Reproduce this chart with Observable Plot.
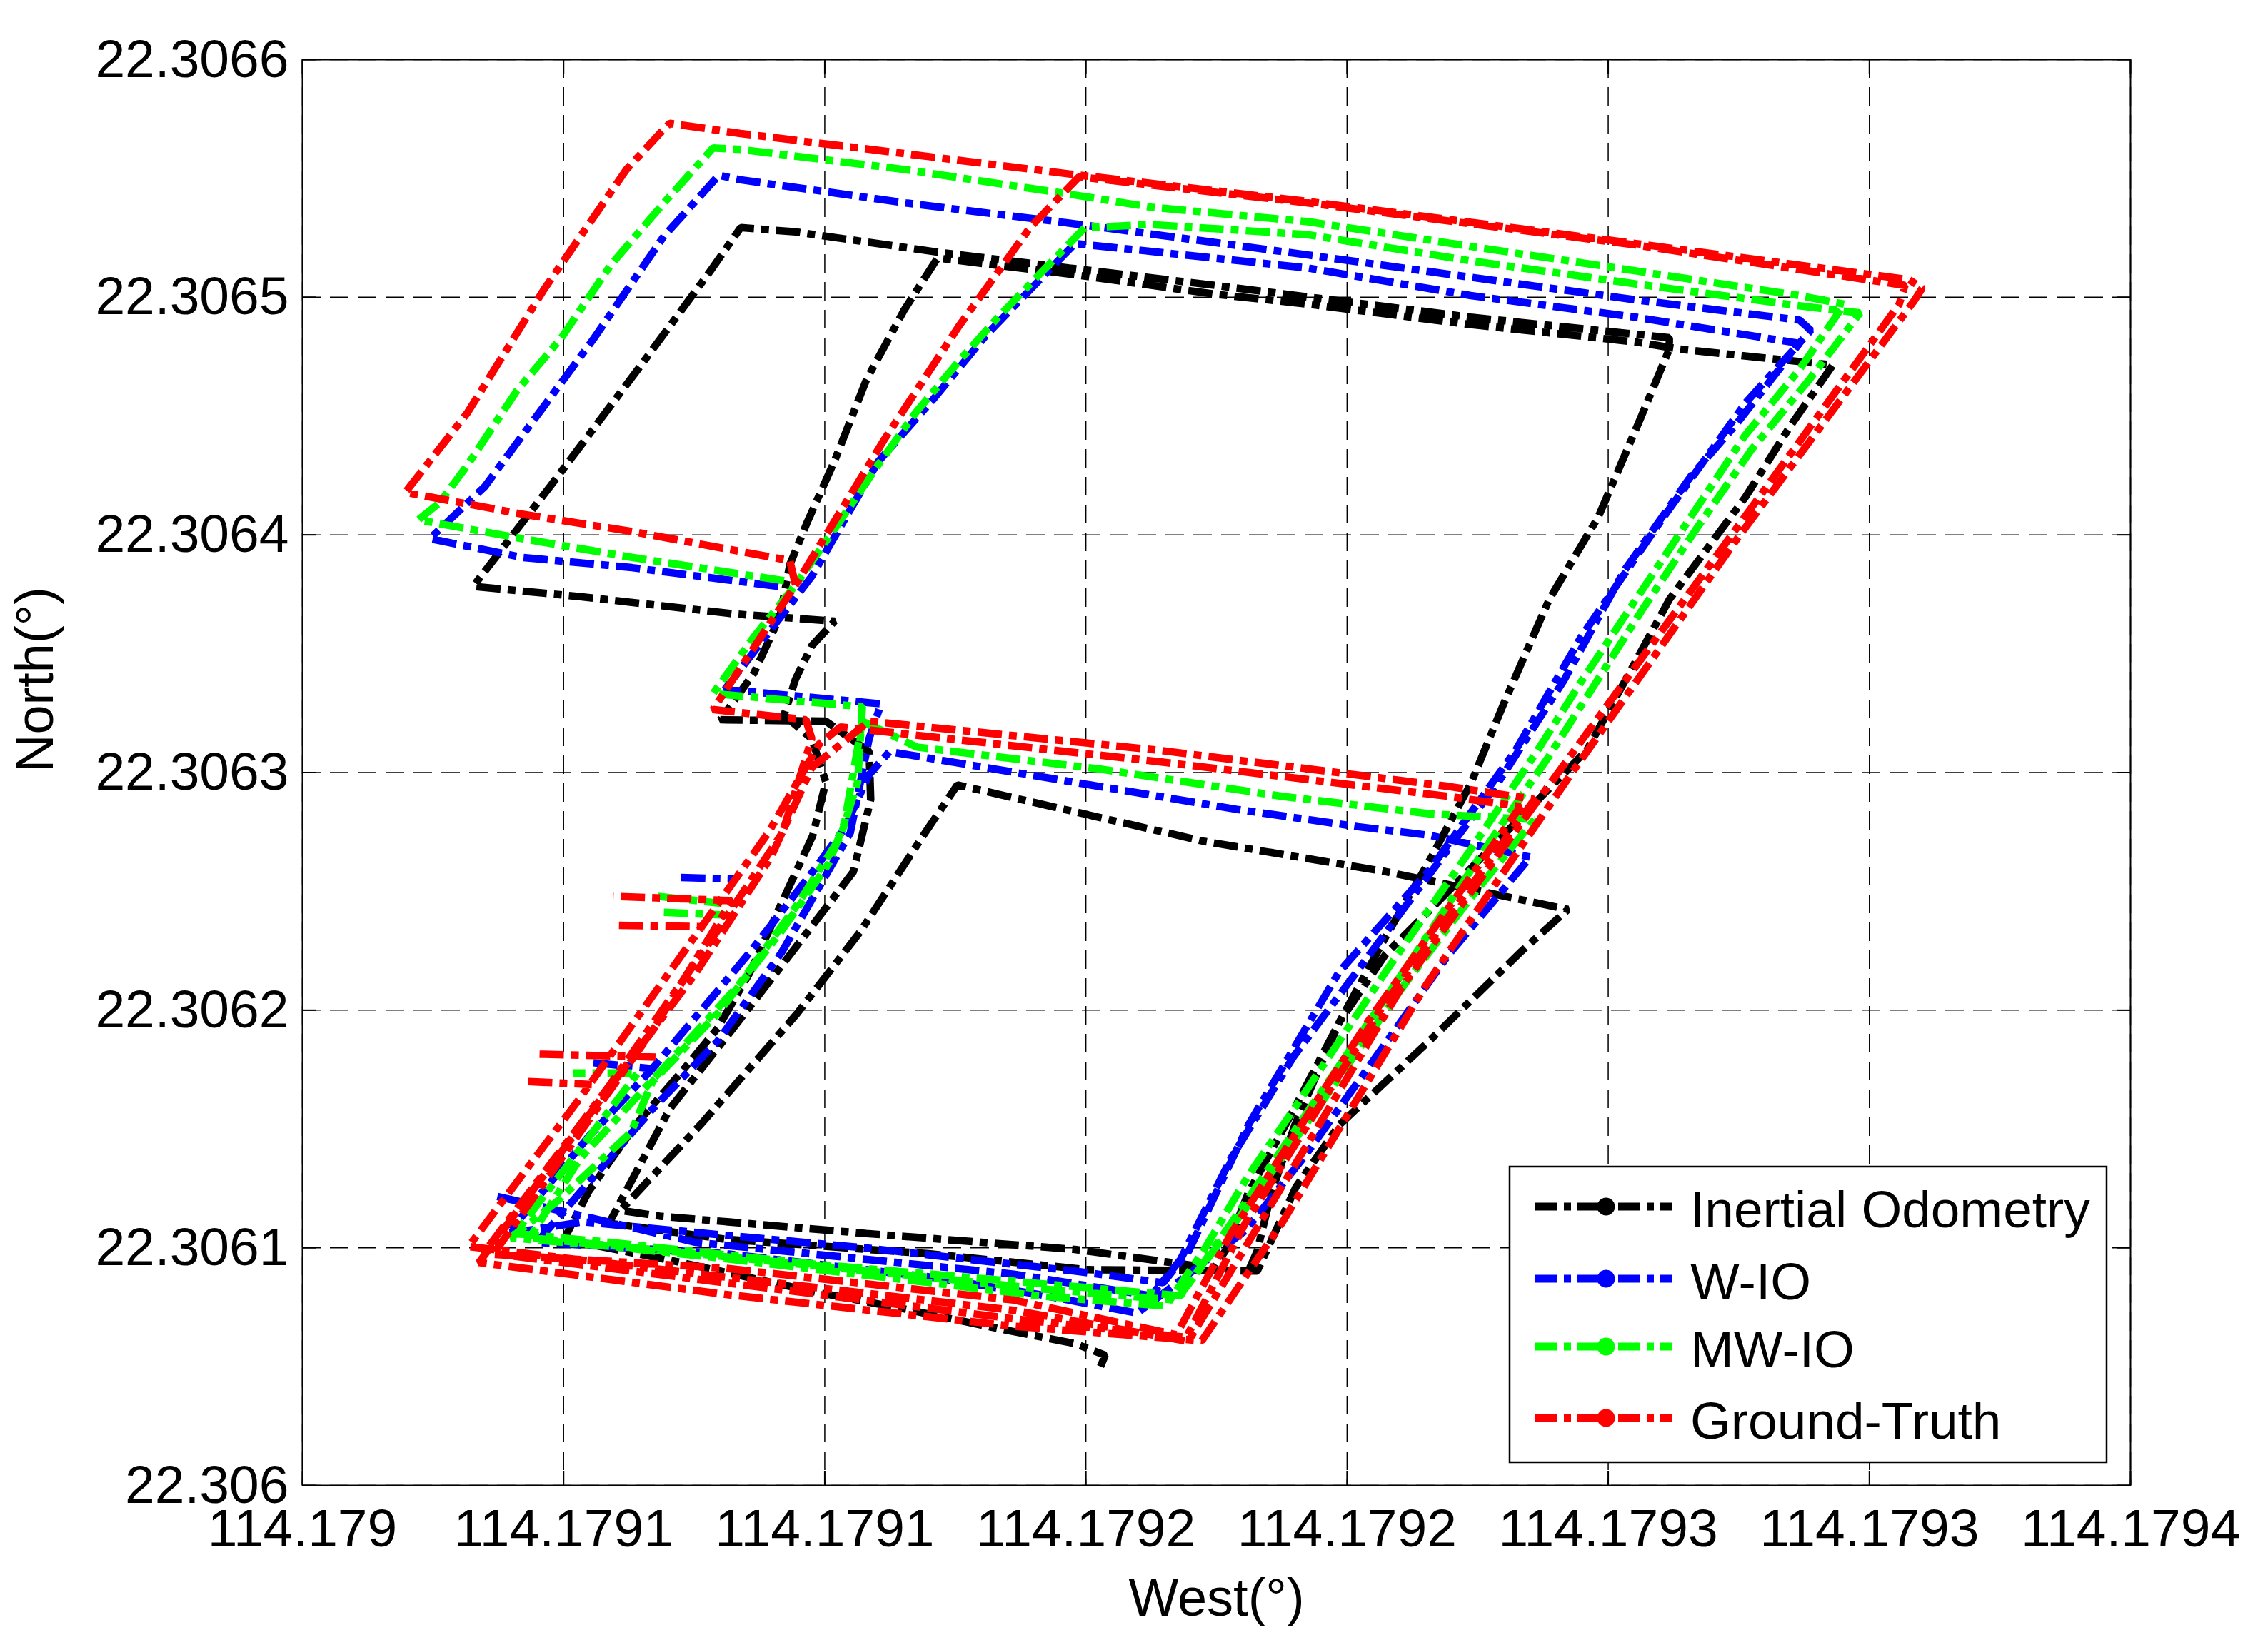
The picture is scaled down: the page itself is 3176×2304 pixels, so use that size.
<!DOCTYPE html>
<html><head><meta charset="utf-8">
<script src="https://cdn.jsdelivr.net/npm/d3@7"></script>
<script src="https://cdn.jsdelivr.net/npm/@observablehq/plot@0.6"></script>
<style>
html,body{margin:0;padding:0;background:#fff;}
#wrap{position:relative;width:3176px;height:2304px;font-family:"Liberation Sans",Arial,sans-serif;}
#legend{position:absolute;left:2112px;top:1632px;width:842px;height:420px;}
</style></head><body><div id="wrap"><div id="legend"></div></div>
<script>
// ---------- axis ticks ----------
const xTicks = [114.179, 114.17905, 114.1791, 114.17915, 114.1792, 114.17925, 114.1793, 114.17935];
const xTickLabels = ["114.179","114.1791","114.1791","114.1792","114.1792","114.1793","114.1793","114.1794"];
const yTicks = [22.306, 22.3061, 22.3062, 22.3063, 22.3064, 22.3065, 22.3066];
const yTickLabels = ["22.306","22.3061","22.3062","22.3063","22.3064","22.3065","22.3066"];
const seriesNames = ["Inertial Odometry","W-IO","MW-IO","Ground-Truth"];
const seriesColors = ["#000000","#0000ff","#00ff00","#ff0000"];

// ---------- Inertial Odometry (black) ----------
const ioLon = [114.1791528,114.1791537,114.1791479,114.1791337,114.1791152,114.1790977,114.1790725,114.1790501,114.1790548,114.1790640,
114.1790731,114.1790795,114.1790856,114.1790917,114.1790977,114.1791002,114.1790975,114.1790922,114.1790944,114.1790975,
114.1791019,114.1790828,114.1790532,114.1790327,114.1790476,114.1790642,114.1790781,114.1790839,114.1790944,114.1791216,
114.1791468,114.1791747,114.1792237,114.1792617,114.1792617,114.1792564,114.1792481,114.1792387,114.1792301,114.1792237,
114.1792160,114.1792074,114.1791985,114.1791900,114.1791811,114.1791767,114.1791744,114.1791479,114.1791080,114.1790684,
114.1790609,114.1790764,114.1790947,114.1791069,114.1791196,114.1791254,114.1791725,114.1792074,114.1792423,114.1792334,
114.1792160,114.1791985,114.1791902,114.1791828,114.1791501,114.1791199,114.1790809,114.1790587,114.1790703,114.1790825,
114.1790947,114.1791055,114.1791088,114.1791085,114.1791002,114.1790800,114.1790864,114.1790914,114.1790933,114.1790966,
114.1791019,114.1791080,114.1791152,114.1791216,114.1791468,114.1791747,114.1791925,114.1792237,114.1792553,114.1792636,
114.1792930,114.1792847,114.1792763,114.1792617,114.1792531,114.1792459,114.1792334,114.1792204,114.1792074,114.1791985,
114.1791900,114.1791855,114.1791828,114.1791811];
const ioLat = [22.3060500,22.3060548,22.3060597,22.3060658,22.3060743,22.3060816,22.3060938,22.3061036,22.3061237,22.3061523,
22.3061754,22.3061925,22.3062156,22.3062449,22.3062735,22.3062960,22.3063143,22.3063241,22.3063393,22.3063533,
22.3063637,22.3063667,22.3063740,22.3063783,22.3064209,22.3064696,22.3065111,22.3065293,22.3065275,22.3065190,
22.3065123,22.3065050,22.3064916,22.3064830,22.3064782,22.3064502,22.3064075,22.3063728,22.3063295,22.3062954,
22.3062638,22.3062309,22.3061949,22.3061590,22.3061231,22.3060987,22.3060914,22.3060993,22.3061060,22.3061133,
22.3061157,22.3061523,22.3061986,22.3062333,22.3062759,22.3062948,22.3062711,22.3062583,22.3062424,22.3062248,
22.3061876,22.3061517,22.3061255,22.3060902,22.3060908,22.3060975,22.3061036,22.3061103,22.3061584,22.3061925,
22.3062272,22.3062583,22.3062887,22.3063088,22.3063216,22.3063222,22.3063417,22.3063655,22.3063874,22.3064051,
22.3064313,22.3064654,22.3064946,22.3065165,22.3065098,22.3065013,22.3064971,22.3064885,22.3064812,22.3064782,
22.3064715,22.3064453,22.3064160,22.3063728,22.3063381,22.3063094,22.3062814,22.3062522,22.3062236,22.3061949,
22.3061517,22.3061231,22.3060987,22.3060902];

// ---------- W-IO (blue) ----------
const wioLon = [114.1790911,114.1790631,114.1790421,114.1790244,114.1790349,114.1790557,114.1790692,114.1790797,114.1790839,114.1791155,
114.1791468,114.1791925,114.1792553,114.1792866,114.1792888,114.1792763,114.1792606,114.1792448,114.1792323,114.1792160,
114.1791985,114.1791811,114.1791697,114.1791648,114.1791479,114.1791080,114.1790803,114.1790537,114.1790393,114.1790548,
114.1790670,114.1790856,114.1790977,114.1791038,114.1791085,114.1791124,114.1791440,114.1791789,114.1792021,114.1792160,
114.1792351,114.1792193,114.1792055,114.1791916,114.1791805,114.1791653,114.1791598,114.1791409,114.1791202,114.1790809,
114.1790449,114.1790670,114.1790795,114.1790917,114.1791049,114.1791085,114.1791108,114.1790809,114.1790975,114.1791102,
114.1791207,114.1791310,114.1791479,114.1791612,114.1791925,114.1792237,114.1792553,114.1792866,114.1792747,114.1792658,
114.1792531,114.1792415,114.1792290,114.1792124,114.1791897,114.1791778,114.1791681,114.1791625,114.1791362,114.1791085,
114.1790753,114.1790465,114.1790368,null,114.1790725,114.1790831,null,114.1790557,114.1790670];
const wioLat = [22.3063783,22.3063862,22.3063905,22.3063984,22.3064203,22.3064824,22.3065257,22.3065513,22.3065494,22.3065397,
22.3065312,22.3065178,22.3064989,22.3064904,22.3064861,22.3064556,22.3064075,22.3063570,22.3063094,22.3062595,
22.3062162,22.3061517,22.3060987,22.3060853,22.3060902,22.3060999,22.3061054,22.3061109,22.3061060,22.3061468,
22.3061754,22.3062242,22.3062583,22.3062766,22.3062991,22.3063088,22.3062973,22.3062845,22.3062772,22.3062735,
22.3062644,22.3062229,22.3061803,22.3061377,22.3061072,22.3060816,22.3060725,22.3060804,22.3060877,22.3060975,
22.3061023,22.3061584,22.3061870,22.3062242,22.3062747,22.3063143,22.3063289,22.3063350,22.3063825,22.3064307,
22.3064569,22.3064843,22.3065226,22.3065196,22.3065123,22.3065007,22.3064916,22.3064806,22.3064471,22.3064246,
22.3063850,22.3063387,22.3062960,22.3062473,22.3061803,22.3061377,22.3060950,22.3060798,22.3060889,22.3060950,
22.3061023,22.3061170,22.3061218,null,22.3062558,22.3062552,null,22.3061779,22.3061754];

// ---------- MW-IO (green) ----------
const mwioLon = [114.1790922,114.1790631,114.1790421,114.1790222,114.1790263,114.1790316,114.1790410,114.1790496,114.1790590,114.1790692,
114.1790786,114.1790839,114.1791155,114.1791468,114.1791625,114.1791925,114.1792237,114.1792553,114.1792866,114.1792952,
114.1792866,114.1792761,114.1792658,114.1792553,114.1792448,114.1792365,114.1792248,114.1792074,114.1791900,114.1791811,
114.1791725,114.1791653,114.1791409,114.1791202,114.1791011,114.1790803,114.1790593,114.1790399,114.1790487,114.1790629,
114.1790670,114.1790795,114.1790917,114.1791008,114.1791038,114.1791072,114.1791177,114.1791526,114.1791875,114.1792160,
114.1792359,114.1792248,114.1792110,114.1791944,114.1791805,114.1791673,114.1791409,114.1791085,114.1790753,114.1790435,
114.1790532,114.1790698,114.1790836,114.1790947,114.1791030,114.1791063,114.1791072,114.1790786,114.1790864,114.1790944,
114.1791027,114.1791102,114.1791174,114.1791260,114.1791332,114.1791415,114.1791498,114.1791625,114.1791925,114.1792237,
114.1792553,114.1792866,114.1792982,114.1792885,114.1792775,114.1792669,114.1792567,114.1792470,114.1792387,114.1792276,
114.1792110,114.1791930,114.1791778,114.1791681,114.1791362,114.1790975,114.1790587,114.1790407,114.1790518,114.1790642,
114.1790518,null,114.1790681,114.1790803,null,114.1790692,114.1790814];
const mwioLat = [22.3063807,22.3063905,22.3063984,22.3064063,22.3064136,22.3064294,22.3064605,22.3064830,22.3065135,22.3065397,
22.3065628,22.3065622,22.3065537,22.3065434,22.3065379,22.3065318,22.3065214,22.3065111,22.3065007,22.3064971,
22.3064696,22.3064416,22.3064075,22.3063728,22.3063381,22.3063094,22.3062711,22.3062162,22.3061590,22.3061304,
22.3060987,22.3060755,22.3060798,22.3060853,22.3060902,22.3060956,22.3061005,22.3061042,22.3061194,22.3061486,
22.3061699,22.3061986,22.3062333,22.3062619,22.3062790,22.3063216,22.3063107,22.3063015,22.3062900,22.3062826,
22.3062802,22.3062504,22.3062108,22.3061590,22.3061163,22.3060780,22.3060828,22.3060902,22.3060975,22.3061042,
22.3061377,22.3061773,22.3062108,22.3062443,22.3062729,22.3062960,22.3063277,22.3063332,22.3063570,22.3063789,
22.3064051,22.3064294,22.3064514,22.3064739,22.3064916,22.3065105,22.3065293,22.3065306,22.3065263,22.3065153,
22.3065056,22.3064964,22.3064934,22.3064654,22.3064361,22.3064026,22.3063691,22.3063356,22.3063070,22.3062717,
22.3062169,22.3061590,22.3061103,22.3060798,22.3060859,22.3060932,22.3061023,22.3061060,22.3061377,22.3061736,
22.3061736,null,22.3062479,22.3062449,null,22.3062412,22.3062400];

// ---------- Ground-Truth (red) ----------
const gtLon = [114.1790944,114.1790933,114.1790631,114.1790421,114.1790197,114.1790316,114.1790462,114.1790620,114.1790684,114.1790703,
114.1790839,114.1791155,114.1791468,114.1791925,114.1792553,114.1793076,114.1793101,114.1793085,114.1792747,114.1792428,
114.1792152,114.1791875,114.1791722,114.1791362,114.1790809,114.1790338,114.1790559,114.1790753,114.1790897,114.1790975,
114.1791085,114.1791639,114.1792193,114.1792359,114.1792068,114.1791805,114.1791689,114.1791362,114.1790809,114.1790318,
114.1790532,114.1790725,114.1790892,114.1790989,114.1791030,114.1791639,114.1792193,114.1792332,114.1792041,114.1791778,
114.1791673,114.1791362,114.1790809,114.1790346,114.1790587,114.1790781,114.1790919,114.1790975,114.1790964,114.1790786,
114.1790892,114.1790944,114.1791113,114.1791257,114.1791393,114.1791487,114.1791925,114.1792553,114.1793068,114.1793057,
114.1792719,114.1792387,114.1792104,114.1791833,114.1791700,114.1791362,114.1790587,114.1790366,114.1790504,114.1790670,
114.1790822,114.1790595,null,114.1790606,114.1790781,null,114.1790454,114.1790676,null,114.1790432,114.1790554];
const gtLat = [22.3063789,22.3063892,22.3064014,22.3064087,22.3064179,22.3064514,22.3065031,22.3065537,22.3065689,22.3065732,
22.3065689,22.3065604,22.3065519,22.3065403,22.3065226,22.3065074,22.3065038,22.3064983,22.3063984,22.3062991,
22.3062108,22.3061103,22.3060609,22.3060670,22.3060804,22.3060938,22.3061590,22.3062156,22.3062644,22.3063021,
22.3063216,22.3063094,22.3062942,22.3062887,22.3062016,22.3061103,22.3060609,22.3060737,22.3060877,22.3061005,
22.3061632,22.3062229,22.3062747,22.3063119,22.3063192,22.3063046,22.3062900,22.3062857,22.3061955,22.3061060,
22.3060634,22.3060780,22.3060914,22.3060975,22.3061681,22.3062290,22.3062747,22.3063143,22.3063222,22.3063265,
22.3063618,22.3063789,22.3064398,22.3064879,22.3065293,22.3065507,22.3065397,22.3065220,22.3065050,22.3064971,
22.3063947,22.3062948,22.3062095,22.3061103,22.3060621,22.3060701,22.3060914,22.3060975,22.3061401,22.3061913,
22.3062461,22.3062479,null,22.3062357,22.3062351,null,22.3061815,22.3061803,null,22.3061700,22.3061687];

// ---------- build ----------
const rows = (lon, lat) => lon.map((x, i) => ({lon: x, lat: lat[i]}));
const series = [rows(ioLon, ioLat), rows(wioLon, wioLat), rows(mwioLon, mwioLat), rows(gtLon, gtLat)];
const lineDash = "34,10,11,10";
const legendDash = "31,9,10,8";
const fmtX = d => xTickLabels[xTicks.findIndex(t => Math.abs(t - d) < 1e-9)];
const fmtY = d => yTickLabels[yTicks.findIndex(t => Math.abs(t - d) < 1e-9)];
const font = '"Liberation Sans", Arial, sans-serif';

const chart = Plot.plot({
  width: 3176, height: 2304,
  marginLeft: 423, marginRight: 193, marginTop: 83, marginBottom: 224,
  style: {background: "#fff", fontFamily: font, fontSize: "75px", color: "#000"},
  x: {domain: [114.179, 114.17935]},
  y: {domain: [22.306, 22.3066]},
  marks: [
    Plot.gridX(xTicks, {stroke: "#000", strokeOpacity: 1, strokeWidth: 1.5, strokeDasharray: "26,13"}),
    Plot.gridY(yTicks, {stroke: "#000", strokeOpacity: 1, strokeWidth: 1.5, strokeDasharray: "26,13"}),
    ...series.map((d, i) => Plot.line(d, {x: "lon", y: "lat", stroke: seriesColors[i], strokeWidth: 10.5,
      strokeDasharray: lineDash, strokeLinecap: "butt", strokeLinejoin: "miter"})),
    Plot.frame({stroke: "#000", strokeWidth: 2}),
    Plot.axisX(xTicks, {anchor: "bottom", tickSize: 0, tickPadding: 32, tickFormat: fmtX, fontSize: 75, label: null}),
    Plot.axisX(xTicks, {anchor: "bottom", tickSize: -20, tickFormat: () => "", label: null, strokeWidth: 2}),
    Plot.axisX(xTicks, {anchor: "top", tickSize: -20, tickFormat: () => "", label: null, strokeWidth: 2}),
    Plot.axisY(yTicks, {anchor: "left", tickSize: 0, tickPadding: 19, tickFormat: fmtY, fontSize: 75, label: null}),
    Plot.axisY(yTicks, {anchor: "left", tickSize: -20, tickFormat: () => "", label: null, strokeWidth: 2}),
    Plot.axisY(yTicks, {anchor: "right", tickSize: -20, tickFormat: () => "", label: null, strokeWidth: 2}),
    Plot.text(["West(°)"], {text: d => d, frameAnchor: "bottom", dy: 159, fontSize: 74, lineAnchor: "middle"}),
    Plot.text(["North(°)"], {text: d => d, frameAnchor: "left", dx: -373, rotate: -90, fontSize: 74, lineAnchor: "middle"})
  ]
});
const wrap = document.getElementById("wrap");
wrap.insertBefore(chart, wrap.firstChild);

// ---------- legend ----------
const rowY = [58, 159, 254, 354];
const ns = "http://www.w3.org/2000/svg";
const lsvg = d3.select("#legend").append("svg").attr("xmlns", ns).attr("width", 842).attr("height", 420);
lsvg.append("rect").attr("x", 2).attr("y", 2).attr("width", 836).attr("height", 414)
  .attr("fill", "#fff").attr("stroke", "#000").attr("stroke-width", 2.5);
seriesNames.forEach((name, i) => {
  const g = lsvg.append("g");
  g.append("line").attr("x1", 38).attr("x2", 229).attr("y1", rowY[i]).attr("y2", rowY[i])
    .attr("stroke", seriesColors[i]).attr("stroke-width", 11).attr("stroke-dasharray", legendDash).attr("stroke-linecap", "butt");
  g.append("circle").attr("cx", 137).attr("cy", rowY[i]).attr("r", 12.5).attr("fill", seriesColors[i]);
  g.append("text").attr("x", 255).attr("y", rowY[i] + 29).attr("font-size", 73).attr("font-family", font)
    .attr("fill", "#000").text(name);
});
</script></body></html>
